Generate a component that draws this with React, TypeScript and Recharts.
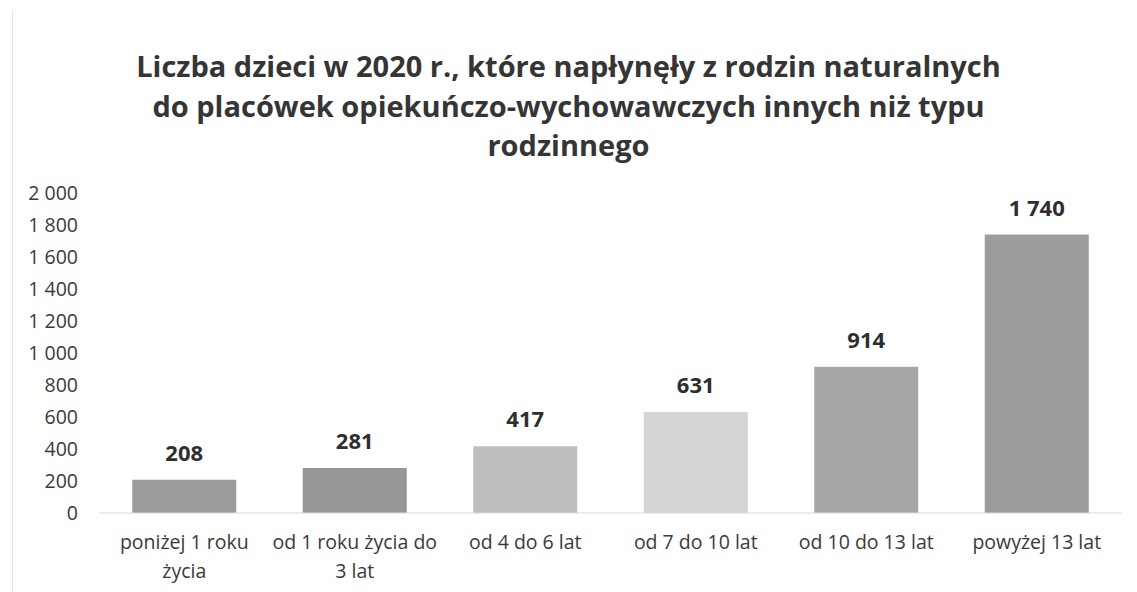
import { BarChart, Bar, XAxis, YAxis, Cell, LabelList } from 'recharts'

const titleLines = [
  'Liczba dzieci w 2020 r., które napłynęły z rodzin naturalnych',
  'do placówek opiekuńczo-wychowawczych innych niż typu',
  'rodzinnego',
]

const categories = [
  'poniżej 1 roku życia',
  'od 1 roku życia do 3 lat',
  'od 4 do 6 lat',
  'od 7 do 10 lat',
  'od 10 do 13 lat',
  'powyżej 13 lat',
]

const values = [208, 281, 417, 631, 914, 1740]

const yTicks = [0, 200, 400, 600, 800, 1000, 1200, 1400, 1600, 1800, 2000]

const barColors = ['#9b9b9b', '#979797', '#bebebe', '#d5d5d5', '#a7a7a7', '#9c9c9c']

const data = categories.map((c, i) => ({ kategoria: c, liczba: values[i] }))

const FONT = '"Open Sans", "Noto Sans", sans-serif'

// 2000 -> "2 000"
const fmt = (v: number) => String(v).replace(/\B(?=(\d{3})+(?!\d))/g, ' ')

// proste łamanie słów
function wrap(text: string, maxChars: number) {
  const lines: string[] = []
  let cur = ''
  text.split(' ').forEach((w) => {
    const next = cur ? cur + ' ' + w : w
    if (next.length > maxChars && cur) {
      lines.push(cur)
      cur = w
    } else {
      cur = next
    }
  })
  if (cur) lines.push(cur)
  return lines
}

const CategoryTick = (props: any) => {
  const { x, y, payload } = props
  const lines = wrap(payload.value, 18)
  return (
    <text x={x} y={y} textAnchor="middle" fill="#3a3a3a" fontSize={19.5} fontFamily={FONT}>
      {lines.map((l, i) => (
        <tspan key={i} x={x} dy={i === 0 ? 28 : 29}>{l}</tspan>
      ))}
    </text>
  )
}

export default function App() {
  return (
    <div style={{ position: 'absolute', left: 0, top: 0, width: 1137, height: 592, background: '#fff' }}>
      <div style={{ position: 'absolute', left: 12, top: 10, width: 1, height: 582, background: '#e6e6e6' }} />
      <div
        style={{
          position: 'absolute',
          left: 0,
          top: 46,
          width: 1137,
          textAlign: 'center',
          fontFamily: FONT,
          fontWeight: 700,
          fontSize: 29,
          lineHeight: '39.5px',
          color: '#353535',
        }}
      >
        {titleLines.map((l, i) => (
          <div key={i}>{l}</div>
        ))}
      </div>
      <div style={{ position: 'absolute', left: 0, top: 0 }}>
        <BarChart width={1137} height={592} data={data} margin={{ top: 193, right: 15, bottom: 0, left: 0 }} barCategoryGap="19.5%">
          <XAxis
            dataKey="kategoria"
            height={79}
            tickLine={false}
            axisLine={{ stroke: '#d9d9d9', strokeWidth: 1 }}
            tick={<CategoryTick />}
            interval={0}
          />
          <YAxis
            width={99}
            domain={[0, 2000]}
            ticks={yTicks}
            interval={0}
            axisLine={false}
            tickLine={false}
            tickMargin={15}
            tickFormatter={fmt}
            tick={{ fill: '#3a3a3a', fontSize: 19.5, fontFamily: FONT }}
          />
          <Bar dataKey="liczba" isAnimationActive={false}>
            {data.map((_, i) => (
              <Cell key={i} fill={barColors[i]} />
            ))}
            <LabelList
              dataKey="liczba"
              position="top"
              offset={19}
              formatter={(v: any) => fmt(v)}
              style={{ fill: '#2e2e2e', fontSize: 22, fontWeight: 700, fontFamily: FONT }}
            />
          </Bar>
        </BarChart>
      </div>
    </div>
  )
}
